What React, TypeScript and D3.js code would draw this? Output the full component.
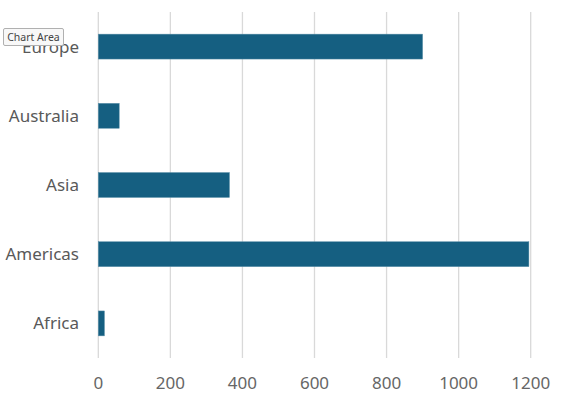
import React from "react";
import * as d3 from "d3";

const categories = ["Europe", "Australia", "Asia", "Americas", "Africa"];
const values = [900, 58, 364, 1195, 17];
const ticks = [0, 200, 400, 600, 800, 1000, 1200];

export default function App() {
  const W = 564, H = 400;
  const x = d3.scaleLinear().domain([0, 1200]).range([98.3, 530.7]);
  const y = d3.scaleBand().domain(categories).range([12, 358]).paddingInner(0.64).paddingOuter(0.32);
  const font = "'Noto Sans', sans-serif";
  return (
    <svg width={W} height={H} style={{ position: "absolute", left: 0, top: 0, background: "#fff" }}>
      {ticks.map((t) => (
        <line key={t} x1={x(t)} x2={x(t)} y1={12} y2={358} stroke="#d9d9d9" strokeWidth={1.3} />
      ))}
      {categories.map((c, i) => (
        <rect key={c} x={x(0)} y={y(c)} width={x(values[i]) - x(0)} height={y.bandwidth()} fill="#155F81" stroke="#5a8fa8" strokeWidth={0.5} />
      ))}
      {categories.map((c) => (
        <text key={c} x={79} y={(y(c) as number) + y.bandwidth() / 2} dy="0.35em" textAnchor="end" fontFamily={font} fontSize={17} fill="#595959">{c}</text>
      ))}
      {ticks.map((t) => (
        <text key={t} x={x(t)} y={383} dy="0.35em" textAnchor="middle" fontFamily={font} fontSize={17} fill="#666">{t}</text>
      ))}
      <g>
        <rect x={3.5} y={28.5} width={60} height={17} fill="#f8f8f8" stroke="#b0b0b0" strokeWidth={1} rx={1.5} />
        <text x={33.5} y={37} dy="0.35em" textAnchor="middle" fontFamily={font} fontSize={10.5} fill="#444">Chart Area</text>
      </g>
    </svg>
  );
}
